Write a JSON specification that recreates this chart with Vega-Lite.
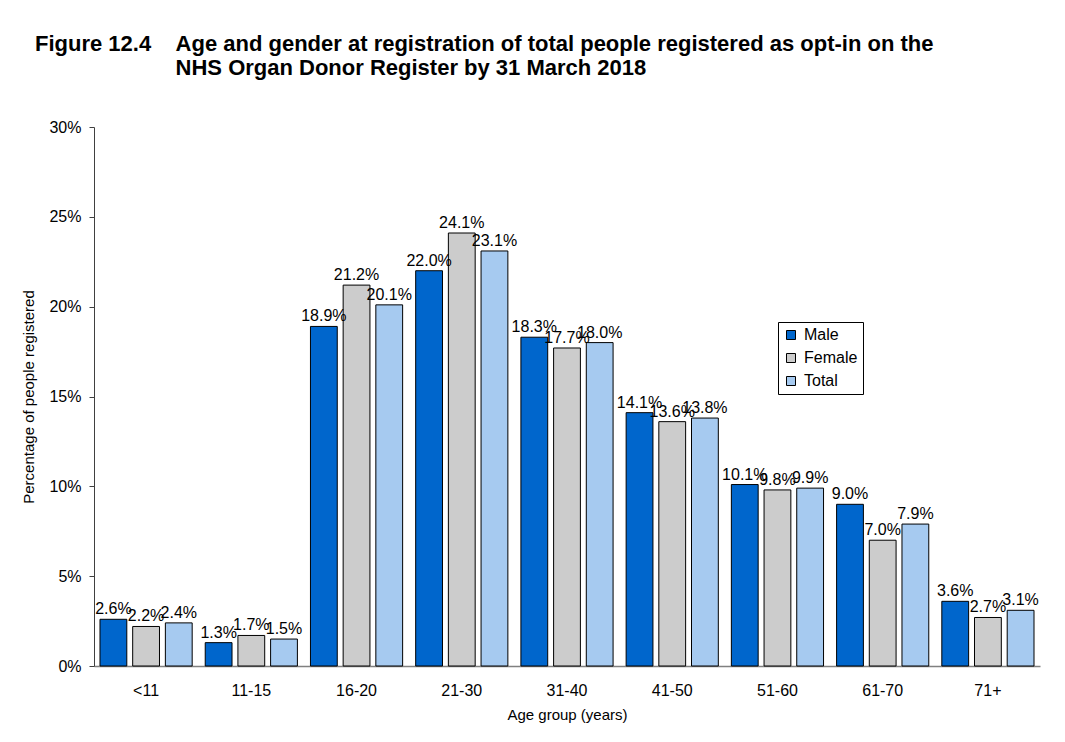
{
  "$schema": "https://vega.github.io/schema/vega-lite/v6.json",
  "width": 946,
  "height": 539,
  "autosize": {"type": "none"},
  "padding": {"left": 94, "top": 127, "right": 25, "bottom": 76},
  "background": "white",
  "title": {
    "text": [
      "Figure 12.4\u00a0\u00a0\u00a0\u00a0Age and gender at registration of total people registered as opt-in on the",
      "\u200b\u00a0\u00a0\u00a0\u00a0\u00a0\u00a0\u00a0\u00a0\u00a0\u00a0\u00a0\u00a0\u00a0\u00a0\u00a0\u00a0\u00a0\u00a0\u00a0\u00a0\u00a0\u00a0\u00a0NHS Organ Donor Register by 31 March 2018"
    ],
    "anchor": "start",
    "frame": "group",
    "dx": -59,
    "offset": 39,
    "font": "Liberation Sans",
    "fontSize": 22,
    "fontWeight": "bold",
    "color": "black",
    "lineHeight": 24
  },
  "data": {
    "values": [
      {"age": "<11", "gender": "Male", "value": 0.026},
      {"age": "<11", "gender": "Female", "value": 0.022},
      {"age": "<11", "gender": "Total", "value": 0.024},
      {"age": "11-15", "gender": "Male", "value": 0.013},
      {"age": "11-15", "gender": "Female", "value": 0.017},
      {"age": "11-15", "gender": "Total", "value": 0.015},
      {"age": "16-20", "gender": "Male", "value": 0.189},
      {"age": "16-20", "gender": "Female", "value": 0.212},
      {"age": "16-20", "gender": "Total", "value": 0.201},
      {"age": "21-30", "gender": "Male", "value": 0.220},
      {"age": "21-30", "gender": "Female", "value": 0.241},
      {"age": "21-30", "gender": "Total", "value": 0.231},
      {"age": "31-40", "gender": "Male", "value": 0.183},
      {"age": "31-40", "gender": "Female", "value": 0.177},
      {"age": "31-40", "gender": "Total", "value": 0.180},
      {"age": "41-50", "gender": "Male", "value": 0.141},
      {"age": "41-50", "gender": "Female", "value": 0.136},
      {"age": "41-50", "gender": "Total", "value": 0.138},
      {"age": "51-60", "gender": "Male", "value": 0.101},
      {"age": "51-60", "gender": "Female", "value": 0.098},
      {"age": "51-60", "gender": "Total", "value": 0.099},
      {"age": "61-70", "gender": "Male", "value": 0.090},
      {"age": "61-70", "gender": "Female", "value": 0.070},
      {"age": "61-70", "gender": "Total", "value": 0.079},
      {"age": "71+", "gender": "Male", "value": 0.036},
      {"age": "71+", "gender": "Female", "value": 0.027},
      {"age": "71+", "gender": "Total", "value": 0.031}
    ]
  },
  "encoding": {
    "x": {
      "field": "age",
      "type": "nominal",
      "sort": ["<11", "11-15", "16-20", "21-30", "31-40", "41-50", "51-60", "61-70", "71+"],
      "scale": {"paddingInner": 0.124, "paddingOuter": 0.057},
      "axis": {
        "title": "Age group (years)",
        "labelAngle": 0,
        "ticks": false,
        "labelPadding": 16,
        "labelFontSize": 16,
        "labelFont": "Liberation Sans",
        "labelColor": "black",
        "titleFont": "Liberation Sans",
        "titleFontSize": 15,
        "titleFontWeight": "normal",
        "titleColor": "black",
        "titlePadding": 9,
        "domainColor": "#808080",
        "domainWidth": 1.5
      }
    },
    "xOffset": {
      "field": "gender",
      "type": "nominal",
      "sort": ["Male", "Female", "Total"],
      "scale": {"paddingInner": 0.18, "paddingOuter": 0}
    },
    "y": {
      "field": "value",
      "type": "quantitative",
      "scale": {"domain": [0, 0.3], "nice": false},
      "axis": {
        "title": "Percentage of people registered",
        "values": [0, 0.05, 0.1, 0.15, 0.2, 0.25, 0.3],
        "format": ".0%",
        "grid": false,
        "tickSize": 5,
        "tickColor": "#404040",
        "domainColor": "#404040",
        "labelPadding": 8,
        "labelFontSize": 16,
        "labelFont": "Liberation Sans",
        "labelColor": "black",
        "titleFont": "Liberation Sans",
        "titleFontSize": 15,
        "titleFontWeight": "normal",
        "titleColor": "black",
        "titlePadding": 12
      }
    },
    "color": {
      "field": "gender",
      "type": "nominal",
      "scale": {"domain": ["Male", "Female", "Total"], "range": ["#0066CC", "#CCCCCC", "#A6CAF0"]},
      "legend": {
        "title": null,
        "orient": "none",
        "legendX": 684,
        "legendY": 195,
        "strokeColor": "black",
        "fillColor": "white",
        "padding": 5,
        "symbolType": "square",
        "symbolSize": 81,
        "symbolStrokeColor": "black",
        "symbolStrokeWidth": 1,
        "labelFontSize": 16,
        "labelFont": "Liberation Sans",
        "labelColor": "black",
        "rowPadding": 7,
        "labelOffset": 5
      }
    }
  },
  "layer": [
    {"mark": {"type": "bar", "stroke": "black", "strokeWidth": 1}},
    {
      "mark": {"type": "text", "baseline": "bottom", "dy": -2, "fontSize": 16, "font": "Liberation Sans", "color": "black"},
      "encoding": {"text": {"field": "value", "type": "quantitative", "format": ".1%"}, "color": {"value": "black"}}
    }
  ],
  "config": {"view": {"stroke": null}}
}
